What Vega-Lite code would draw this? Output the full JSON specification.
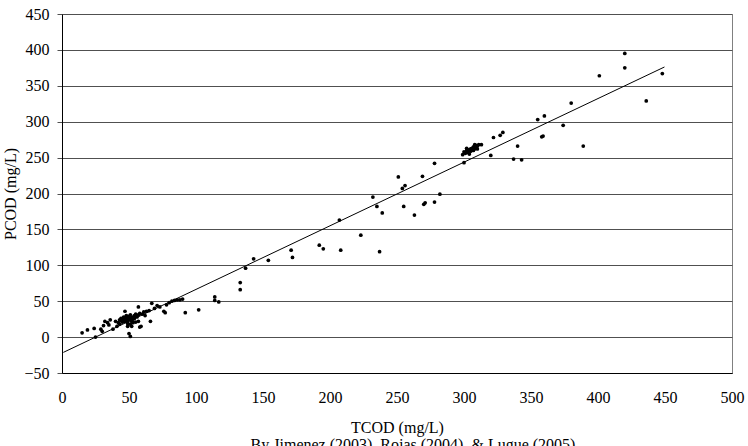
{
  "$schema": "https://vega.github.io/schema/vega-lite/v6.json",
  "width": 670,
  "height": 359,
  "autosize": {"type": "none"},
  "padding": {"left": 62, "top": 14, "right": 16, "bottom": 73},
  "background": "white",
  "config": {
    "font": "Liberation Serif",
    "view": {"stroke": "#808080", "strokeWidth": 1},
    "axis": {"labelFont": "Liberation Serif", "titleFont": "Liberation Serif", "labelColor": "black", "titleColor": "black", "labelFontSize": 16, "titleFontSize": 16, "titleFontWeight": "normal"}
  },
  "title": {
    "text": "By Jimenez (2003), Rojas (2004), & Lugue (2005)",
    "orient": "bottom",
    "anchor": "middle",
    "dx": 16,
    "offset": 2,
    "font": "Liberation Serif",
    "fontSize": 16,
    "fontWeight": "normal",
    "color": "black"
  },
  "datasets": {
    "samples": [
      {"tcod": 15, "pcod": 6}, {"tcod": 19, "pcod": 10}, {"tcod": 24, "pcod": 12}, {"tcod": 25, "pcod": 0},
      {"tcod": 29, "pcod": 11}, {"tcod": 30, "pcod": 8}, {"tcod": 31, "pcod": 16}, {"tcod": 32, "pcod": 22},
      {"tcod": 34, "pcod": 20}, {"tcod": 35, "pcod": 17}, {"tcod": 36, "pcod": 24}, {"tcod": 38, "pcod": 11},
      {"tcod": 40, "pcod": 22}, {"tcod": 41, "pcod": 15}, {"tcod": 43, "pcod": 24}, {"tcod": 47, "pcod": 36},
      {"tcod": 42, "pcod": 20}, {"tcod": 43, "pcod": 18}, {"tcod": 44, "pcod": 23}, {"tcod": 44, "pcod": 26},
      {"tcod": 45, "pcod": 21}, {"tcod": 45, "pcod": 25}, {"tcod": 46, "pcod": 24}, {"tcod": 46, "pcod": 28},
      {"tcod": 47, "pcod": 22}, {"tcod": 47, "pcod": 27}, {"tcod": 48, "pcod": 25}, {"tcod": 48, "pcod": 30},
      {"tcod": 49, "pcod": 23}, {"tcod": 49, "pcod": 27}, {"tcod": 50, "pcod": 26}, {"tcod": 50, "pcod": 29},
      {"tcod": 51, "pcod": 24}, {"tcod": 51, "pcod": 31}, {"tcod": 52, "pcod": 27}, {"tcod": 52, "pcod": 22},
      {"tcod": 53, "pcod": 28}, {"tcod": 53, "pcod": 25}, {"tcod": 54, "pcod": 30}, {"tcod": 54, "pcod": 26},
      {"tcod": 55, "pcod": 29}, {"tcod": 55, "pcod": 32}, {"tcod": 56, "pcod": 28}, {"tcod": 57, "pcod": 31},
      {"tcod": 58, "pcod": 33}, {"tcod": 60, "pcod": 32}, {"tcod": 62, "pcod": 30}, {"tcod": 61, "pcod": 35},
      {"tcod": 53, "pcod": 20}, {"tcod": 55, "pcod": 21}, {"tcod": 49, "pcod": 19}, {"tcod": 51, "pcod": 18},
      {"tcod": 49, "pcod": 15}, {"tcod": 50, "pcod": 5}, {"tcod": 51, "pcod": 1}, {"tcod": 52, "pcod": 15},
      {"tcod": 57, "pcod": 22}, {"tcod": 58, "pcod": 14}, {"tcod": 59, "pcod": 15}, {"tcod": 57, "pcod": 42},
      {"tcod": 63, "pcod": 36}, {"tcod": 65, "pcod": 37}, {"tcod": 66, "pcod": 22}, {"tcod": 67, "pcod": 47},
      {"tcod": 69, "pcod": 40}, {"tcod": 71, "pcod": 44}, {"tcod": 73, "pcod": 42}, {"tcod": 76, "pcod": 36},
      {"tcod": 77, "pcod": 34}, {"tcod": 78, "pcod": 45}, {"tcod": 80, "pcod": 48}, {"tcod": 82, "pcod": 50},
      {"tcod": 84, "pcod": 51}, {"tcod": 86, "pcod": 52}, {"tcod": 88, "pcod": 52}, {"tcod": 90, "pcod": 53},
      {"tcod": 92, "pcod": 34}, {"tcod": 102, "pcod": 38},
      {"tcod": 114, "pcod": 56}, {"tcod": 114, "pcod": 51}, {"tcod": 117, "pcod": 49},
      {"tcod": 133, "pcod": 76}, {"tcod": 133, "pcod": 66}, {"tcod": 137, "pcod": 96},
      {"tcod": 143, "pcod": 109}, {"tcod": 154, "pcod": 107}, {"tcod": 171, "pcod": 121}, {"tcod": 172, "pcod": 111},
      {"tcod": 192, "pcod": 128}, {"tcod": 195, "pcod": 123}, {"tcod": 207, "pcod": 163}, {"tcod": 208, "pcod": 121},
      {"tcod": 223, "pcod": 142}, {"tcod": 232, "pcod": 195}, {"tcod": 235, "pcod": 182}, {"tcod": 237, "pcod": 119},
      {"tcod": 239, "pcod": 173}, {"tcod": 251, "pcod": 223}, {"tcod": 254, "pcod": 207}, {"tcod": 255, "pcod": 182},
      {"tcod": 256, "pcod": 211}, {"tcod": 263, "pcod": 170}, {"tcod": 269, "pcod": 224}, {"tcod": 270, "pcod": 185},
      {"tcod": 271, "pcod": 187}, {"tcod": 278, "pcod": 242}, {"tcod": 278, "pcod": 188}, {"tcod": 282, "pcod": 199},
      {"tcod": 300, "pcod": 243}, {"tcod": 299, "pcod": 254}, {"tcod": 300, "pcod": 258}, {"tcod": 301, "pcod": 256},
      {"tcod": 302, "pcod": 260}, {"tcod": 303, "pcod": 257}, {"tcod": 304, "pcod": 261}, {"tcod": 305, "pcod": 262},
      {"tcod": 305, "pcod": 259}, {"tcod": 306, "pcod": 263}, {"tcod": 307, "pcod": 260}, {"tcod": 307, "pcod": 265},
      {"tcod": 308, "pcod": 262}, {"tcod": 309, "pcod": 264}, {"tcod": 309, "pcod": 267}, {"tcod": 310, "pcod": 266},
      {"tcod": 311, "pcod": 268}, {"tcod": 304, "pcod": 255}, {"tcod": 302, "pcod": 263}, {"tcod": 308, "pcod": 268},
      {"tcod": 310, "pcod": 262}, {"tcod": 313, "pcod": 268}, {"tcod": 320, "pcod": 253}, {"tcod": 322, "pcod": 278},
      {"tcod": 327, "pcod": 281}, {"tcod": 329, "pcod": 285}, {"tcod": 337, "pcod": 248}, {"tcod": 340, "pcod": 266},
      {"tcod": 343, "pcod": 247}, {"tcod": 355, "pcod": 303}, {"tcod": 358, "pcod": 279}, {"tcod": 359, "pcod": 280},
      {"tcod": 360, "pcod": 308}, {"tcod": 374, "pcod": 295}, {"tcod": 380, "pcod": 326}, {"tcod": 389, "pcod": 266},
      {"tcod": 401, "pcod": 364}, {"tcod": 420, "pcod": 395}, {"tcod": 420, "pcod": 375}, {"tcod": 436, "pcod": 329},
      {"tcod": 448, "pcod": 367}
    ],
    "trend": [
      {"tcod": 1, "pcod": -21.3},
      {"tcod": 449.6, "pcod": 376.2}
    ]
  },
  "layer": [
    {
      "data": {"name": "samples"},
      "mark": {"type": "point", "filled": true, "shape": "circle", "size": 14, "color": "black", "opacity": 1},
      "encoding": {
        "x": {
          "field": "tcod", "type": "quantitative",
          "scale": {"domain": [0, 500], "nice": false, "zero": false},
          "axis": {
            "title": "TCOD (mg/L)",
            "values": [0, 50, 100, 150, 200, 250, 300, 350, 400, 450, 500],
            "tickCount": 11, "labelOverlap": false,
            "grid": false, "ticks": false, "domainColor": "black",
            "labelPadding": 16, "titlePadding": 14, "labelFlush": false
          }
        },
        "y": {
          "field": "pcod", "type": "quantitative",
          "scale": {"domain": [-50, 450], "nice": false, "zero": false},
          "axis": {
            "title": "PCOD (mg/L)",
            "values": [-50, 0, 50, 100, 150, 200, 250, 300, 350, 400, 450],
            "tickCount": 11, "labelOverlap": false,
            "grid": true, "gridColor": "#505050", "gridOpacity": 1,
            "ticks": true, "tickSize": 5, "tickColor": "#505050",
            "domainColor": "black",
            "labelPadding": 8, "titlePadding": 5, "labelFlush": false
          }
        }
      }
    },
    {
      "data": {"name": "trend"},
      "mark": {"type": "line", "color": "black", "strokeWidth": 1},
      "encoding": {
        "x": {"field": "tcod", "type": "quantitative"},
        "y": {"field": "pcod", "type": "quantitative"}
      }
    }
  ]
}
